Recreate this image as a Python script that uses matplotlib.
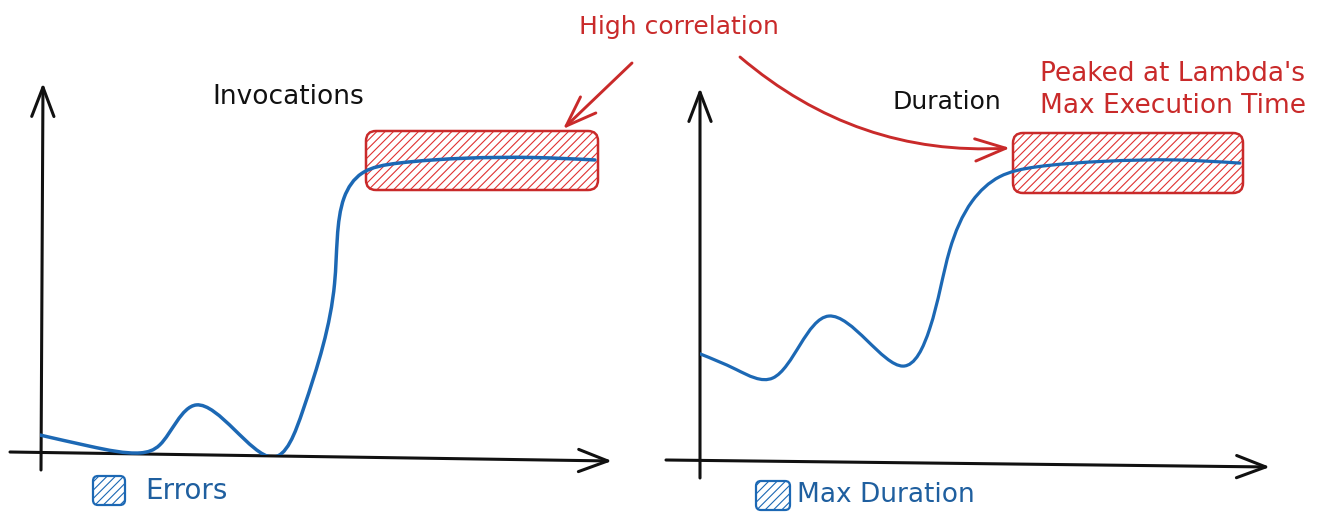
import numpy as np
import matplotlib
matplotlib.use("Agg")
import matplotlib.pyplot as plt
from matplotlib.path import Path
from matplotlib.patches import PathPatch, FancyBboxPatch, FancyArrowPatch

# ---------------- data ----------------
inv_time = [0, 8.9, 17.9, 21.4, 27.9, 41.4, 47.0, 52.6, 54.3, 57.5, 64.0, 76.0, 88.0, 99.1]
inv_value = [5.7, 2.5, 0.6, 2.9, 14.3, -0.6, 13.0, 49.0, 73.5, 80.5, 83.4, 84.8, 85.0, 84.3]

dur_time = [0, 6.5, 13.0, 23.0, 36.25, 41.0, 44.6, 48.6, 53.5, 60.0, 72.0, 85.0, 96.4]
dur_value = [30.9, 26.4, 24.0, 41.7, 27.4, 38.0, 60.6, 74.5, 81.5, 84.3, 85.9, 86.3, 85.4]

titles = ["Invocations", "Duration"]
legend_labels = ["Errors", "Max Duration"]
note_main = "High correlation"
note_right = "Peaked at Lambda's\nMax Execution Time"

# ---------------- style ----------------
BLUE = "#1c68b4"
BLUE_TXT = "#1f5f9f"
RED = "#c92a2a"
RED_H = "#e03131"
BLACK = "#111111"
FONT = "DejaVu Sans"
plt.rcParams["hatch.linewidth"] = 0.8

W, H = 1325, 522
SX, SY = 5.6, 3.5  # px per data unit on both panels
fig = plt.figure(figsize=(W / 100, H / 100), dpi=100)
ov = fig.add_axes([0, 0, 1, 1], zorder=0)
ov.set_xlim(0, W)
ov.set_ylim(H, 0)
ov.axis("off")


def smooth_path(xs, ys):
    # parametric natural cubic spline (chord length) through the points, as Bezier segments
    P = np.column_stack([np.asarray(xs, float) * SX, np.asarray(ys, float) * SY])
    n = len(P)
    h = np.hypot(*(np.diff(P, axis=0).T)) ** 0.75
    A = np.zeros((n, n))
    B = np.zeros((n, 2))
    A[0, 0] = A[-1, -1] = 1.0
    for i in range(1, n - 1):
        A[i, i - 1] = h[i - 1]
        A[i, i] = 2 * (h[i - 1] + h[i])
        A[i, i + 1] = h[i]
        B[i] = 6 * ((P[i + 1] - P[i]) / h[i] - (P[i] - P[i - 1]) / h[i - 1])
    M = np.linalg.solve(A, B)
    verts = [P[0]]
    codes = [Path.MOVETO]
    for i in range(n - 1):
        hi = h[i]
        s = (P[i + 1] - P[i]) / hi
        d0 = s - hi * (2 * M[i] + M[i + 1]) / 6
        d1 = s + hi * (M[i] + 2 * M[i + 1]) / 6
        verts += [P[i] + d0 * hi / 3, P[i + 1] - d1 * hi / 3, P[i + 1]]
        codes += [Path.CURVE4] * 3
    verts = np.array(verts) / np.array([SX, SY])
    return Path(verts, codes)


def data_axes(px_left, px_base):
    ax = fig.add_axes([px_left / W, (H - px_base) / H, 100 * SX / W, 100 * SY / H], zorder=2)
    ax.set_xlim(0, 100)
    ax.set_ylim(0, 100)
    ax.axis("off")
    ax.patch.set_alpha(0)
    return ax


def axis_arrow(p0, p1):
    ov.add_patch(FancyArrowPatch(p0, p1, arrowstyle="->,head_length=21,head_width=8",
                                 mutation_scale=1, color=BLACK, lw=2.2,
                                 capstyle="round", joinstyle="round", shrinkA=0, shrinkB=0))


def red_arrow(p0, p1, rad=0.0):
    ov.add_patch(FancyArrowPatch(p0, p1, arrowstyle="->,head_length=22,head_width=8",
                                 connectionstyle=f"arc3,rad={rad}",
                                 mutation_scale=1, color=RED, lw=2.1,
                                 capstyle="round", joinstyle="round", shrinkA=0, shrinkB=0))


def hatch_box(x, y, w, h, color_edge, color_hatch, r=10, lw=1.8):
    ov.add_patch(FancyBboxPatch((x, y), w, h, boxstyle=f"round,pad=0,rounding_size={r}",
                                facecolor="none", edgecolor=color_hatch, hatch="////", lw=0))
    ov.add_patch(FancyBboxPatch((x, y), w, h, boxstyle=f"round,pad=0,rounding_size={r}",
                                facecolor="none", edgecolor=color_edge, lw=lw))


# ---------------- axes (hand drawn) ----------------
axis_arrow((41, 470), (43, 83))
axis_arrow((10, 452), (612, 461))
axis_arrow((700, 478), (700, 88))
axis_arrow((666, 460), (1270, 467))

# ---------------- highlight boxes ----------------
hatch_box(366, 131, 232, 59, RED, RED_H)
hatch_box(1013, 133, 230, 60, RED, RED_H)

# ---------------- curves ----------------
axL = data_axes(40, 455)
axL.add_patch(PathPatch(smooth_path(inv_time, inv_value), facecolor="none",
                        edgecolor=BLUE, lw=2.5, capstyle="round", joinstyle="round"))
axR = data_axes(700, 462)
axR.add_patch(PathPatch(smooth_path(dur_time, dur_value), facecolor="none",
                        edgecolor=BLUE, lw=2.3, capstyle="round", joinstyle="round"))

# ---------------- texts ----------------
ov.text(288, 97, titles[0], ha="center", va="center", fontsize=19, color=BLACK, family=FONT)
ov.text(947, 102, titles[1], ha="center", va="center", fontsize=18, color=BLACK, family=FONT)
ov.text(679, 27, note_main, ha="center", va="center", fontsize=18, color=RED, family=FONT)
ov.text(1173, 90, note_right, ha="center", va="center", fontsize=19, color=RED, family=FONT,
        linespacing=1.3)

# arrows
red_arrow((632, 63), (563, 129))
red_arrow((740, 57), (1010, 148), rad=0.2)

# ---------------- legends ----------------
hatch_box(93, 476, 32, 29, BLUE, BLUE, r=5, lw=1.6)
ov.text(145, 491, legend_labels[0], ha="left", va="center", fontsize=20, color=BLUE_TXT, family=FONT)
hatch_box(756, 481, 34, 29, BLUE, BLUE, r=5, lw=1.6)
ov.text(797, 495, legend_labels[1], ha="left", va="center", fontsize=19, color=BLUE_TXT, family=FONT)

fig.savefig("out.png", dpi=100, facecolor="white")
